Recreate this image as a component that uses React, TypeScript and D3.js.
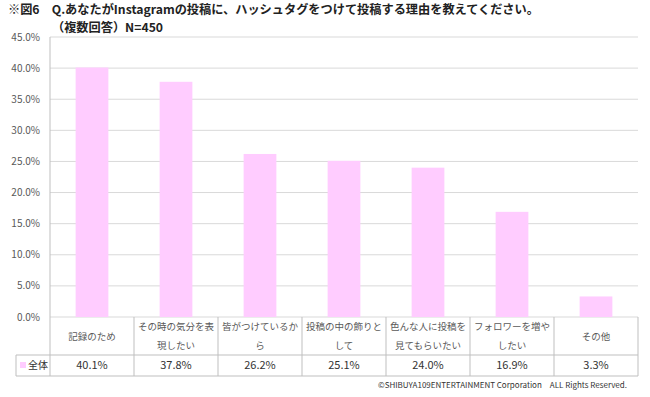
import React from 'react';
import * as d3 from 'd3';

const categories = ['記録のため', 'その時の気分を表現したい', '皆がつけているから', '投稿の中の飾りとして', '色んな人に投稿を見てもらいたい', 'フォロワーを増やしたい', 'その他'];
// wrapped lines as in the original table
const categoryLines = [
  ['記録のため'],
  ['その時の気分を表', '現したい'],
  ['皆がつけているか', 'ら'],
  ['投稿の中の飾りと', 'して'],
  ['色んな人に投稿を', '見てもらいたい'],
  ['フォロワーを増や', 'したい'],
  ['その他'],
];
const values = [40.1, 37.8, 26.2, 25.1, 24.0, 16.9, 3.3];
const yTicks = [0, 5, 10, 15, 20, 25, 30, 35, 40, 45];
const seriesName = '全体';

const W = 650;
const H = 397;
const plot = { left: 50, right: 638, top: 37, bottom: 317 };
const tableRows = { top: 317, mid: 355, bottom: 376 };
const font = '"Noto Sans CJK JP", "Noto Sans", sans-serif';
const pink = '#ffccff';
const gridColor = '#d9d9d9';
const textColor = '#595959';

export default function App() {
  const x = d3.scaleBand<string>().domain(categories).range([plot.left, plot.right]);
  const y = d3.scaleLinear().domain([0, 45]).range([plot.bottom, plot.top]);
  const barW = x.bandwidth() * 0.39;

  return (
    <svg width={W} height={H} style={{ position: 'absolute', left: 0, top: 0, background: '#fff' }} fontFamily={font}>
      {/* title */}
      <text x={8} y={14} fontSize={12.2} fontWeight="bold" fill="#222">
        ※図6　Q.あなたがInstagramの投稿に、ハッシュタグをつけて投稿する理由を教えてください。
      </text>
      <text x={52} y={32} fontSize={12.2} fontWeight="bold" fill="#222">（複数回答）N=450</text>

      {/* gridlines + y labels */}
      {yTicks.map((t) => (
        <g key={t}>
          <line x1={plot.left} x2={plot.right} y1={y(t)} y2={y(t)} stroke={gridColor} strokeWidth={1} />
          <text x={40} y={y(t) + 3.5} textAnchor="end" fontSize={10} fill={textColor}>
            {t.toFixed(1)}%
          </text>
        </g>
      ))}

      {/* bars */}
      {values.map((v, i) => (
        <rect
          key={i}
          x={(x(categories[i]) as number) + (x.bandwidth() - barW) / 2}
          y={y(v)}
          width={barW}
          height={y(0) - y(v)}
          fill={pink}
        />
      ))}

      {/* data table */}
      <g stroke="#bfbfbf" strokeWidth={1}>
        <line x1={plot.left} x2={plot.left} y1={plot.top} y2={tableRows.bottom} />
        <line x1={plot.right} x2={plot.right} y1={tableRows.top} y2={tableRows.bottom} />
        <line x1={16} x2={plot.right} y1={tableRows.mid} y2={tableRows.mid} />
        <line x1={16} x2={plot.right} y1={tableRows.bottom} y2={tableRows.bottom} />
        <line x1={16} x2={16} y1={tableRows.mid} y2={tableRows.bottom} />
        {categories.slice(1).map((c) => (
          <line key={c} x1={x(c)} x2={x(c)} y1={tableRows.top} y2={tableRows.bottom} />
        ))}
      </g>

      {categories.map((c, i) => {
        const cx = (x(c) as number) + x.bandwidth() / 2;
        const lines = categoryLines[i];
        const cy = (tableRows.top + tableRows.mid) / 2;
        return (
          <g key={c}>
            {lines.map((l, j) => (
              <text
                key={j}
                x={cx}
                y={cy + 3.5 + (j - (lines.length - 1) / 2) * 19}
                textAnchor="middle"
                fontSize={9.5}
                fill={textColor}
              >
                {l}
              </text>
            ))}
            <text x={cx} y={tableRows.bottom - 7} textAnchor="middle" fontSize={11} fill="#333">
              {values[i].toFixed(1)}%
            </text>
          </g>
        );
      })}

      {/* legend key */}
      <rect x={20} y={362} width={6} height={6} fill={pink} />
      <text x={28} y={369} fontSize={10} fill="#333">{seriesName}</text>

      {/* copyright */}
      <text x={627} y={388} textAnchor="end" fontSize={8} fill="#333">
        ©SHIBUYA109ENTERTAINMENT Corporation　ALL Rights Reserved.
      </text>
    </svg>
  );
}
